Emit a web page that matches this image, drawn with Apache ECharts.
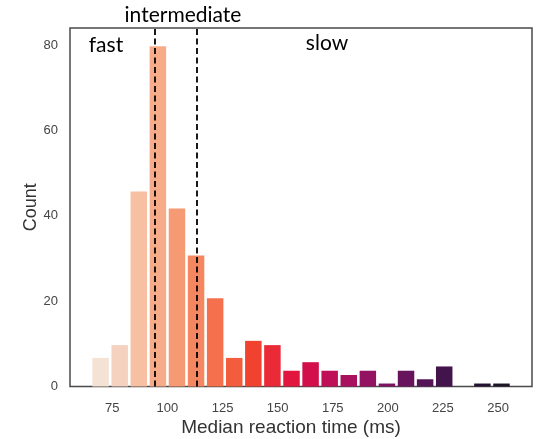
<!DOCTYPE html>
<html>
<head>
<meta charset="utf-8">
<script src="https://cdn.jsdelivr.net/npm/echarts@6/dist/echarts.min.js"></script>
<style>
html,body{margin:0;padding:0;background:#fff;}
#chart{width:540px;height:439px;}
</style>
</head>
<body>
<div id="chart"></div>
<script>
// Histogram bin edges (ms) and counts
const binEdges = [65.36, 74.02, 82.68, 91.34, 100.00, 108.66, 117.32, 125.98, 134.64, 143.30, 151.96,
  160.62, 169.28, 177.94, 186.60, 195.26, 203.92, 212.58, 221.24, 229.90, 238.56, 247.22, 255.88];
const counts = [7, 10, 46, 80, 42, 31, 21, 7, 11, 10, 4, 6, 4, 3, 4, 1, 4, 2, 5, 0, 1, 1];
const barColors = ['#f4e3d5', '#f5d2bf', '#f7c0a3', '#f7ac89', '#f69a73', '#f58760', '#f5714d',
  '#f35c3d', '#f0422f', '#ea2a36', '#e2153f', '#d30f4b', '#bf0f56', '#a9115e', '#941262',
  '#7d1361', '#67145d', '#541456', '#42144b', '#31133e', '#231131', '#1b1526'];
const thresholds = [94.4, 113.3];
const xTicks = [75, 100, 125, 150, 175, 200, 225, 250];
const yTicks = [0, 20, 40, 60, 80];
const regionLabels = ['fast', 'intermediate', 'slow'];

const data = counts.map((c, i) => [binEdges[i], binEdges[i + 1], c]);

const chart = echarts.init(document.getElementById('chart'), null, {renderer: 'canvas'});
chart.setOption({
  animation: false,
  backgroundColor: '#fff',
  grid: {left: 70, right: 8, top: 28, bottom: 52.5, outerBoundsMode: 'none', containLabel: false,
    show: true, borderColor: '#4a4a4a', borderWidth: 1.5, backgroundColor: 'transparent'},
  xAxis: {
    type: 'value', min: 55.8, max: 265.4,
    name: 'Median reaction time (ms)', nameLocation: 'middle', nameGap: 32, nameMoveOverlap: false,
    nameTextStyle: {fontFamily: 'Liberation Sans', fontSize: 19, color: '#333', padding: [0, 20, 0, 0]},
    axisLine: {show: false}, axisTick: {show: false}, splitLine: {show: false},
    axisLabel: {customValues: xTicks, fontFamily: 'Liberation Sans', fontSize: 13, color: '#444', margin: 15}
  },
  yAxis: {
    type: 'value', min: 0, max: 84,
    name: 'Count', nameLocation: 'middle', nameGap: 30, nameRotate: 90, nameMoveOverlap: false,
    nameTextStyle: {fontFamily: 'Liberation Sans', fontSize: 18, color: '#333'},
    axisLine: {show: false}, axisTick: {show: false}, splitLine: {show: false},
    axisLabel: {customValues: yTicks, fontFamily: 'Liberation Sans', fontSize: 13, color: '#444', margin: 12}
  },
  series: [{
    type: 'custom',
    data: data,
    encode: {x: [0, 1], y: 2},
    renderItem: function (params, api) {
      if (!api.value(2)) { return null; }
      const p0 = api.coord([api.value(0), api.value(2)]);
      const p1 = api.coord([api.value(1), 0]);
      const gap = 1.3;
      const top = p0[1] + gap;
      return {
        type: 'rect',
        shape: {x: p0[0] + gap, y: top, width: p1[0] - p0[0] - 2 * gap, height: p1[1] - top},
        style: {fill: barColors[params.dataIndex]}
      };
    },
    markLine: {
      silent: true, symbol: 'none', label: {show: false},
      lineStyle: {color: '#000', type: [6, 3.5], width: 1.8},
      data: thresholds.map(v => ({xAxis: v}))
    },
    z: 2
  }],
  graphic: [
    {type: 'text', x: 106, y: 45, style: {text: regionLabels[0], font: '21px Lato', fill: '#000', textAlign: 'center', textVerticalAlign: 'middle'}, z: 10},
    {type: 'text', x: 183, y: 15, style: {text: regionLabels[1], font: '21px Lato', fill: '#000', textAlign: 'center', textVerticalAlign: 'middle'}, z: 10},
    {type: 'text', x: 327, y: 43, style: {text: regionLabels[2], font: '21px Lato', fill: '#000', textAlign: 'center', textVerticalAlign: 'middle'}, z: 10}
  ]
});
</script>
</body>
</html>
